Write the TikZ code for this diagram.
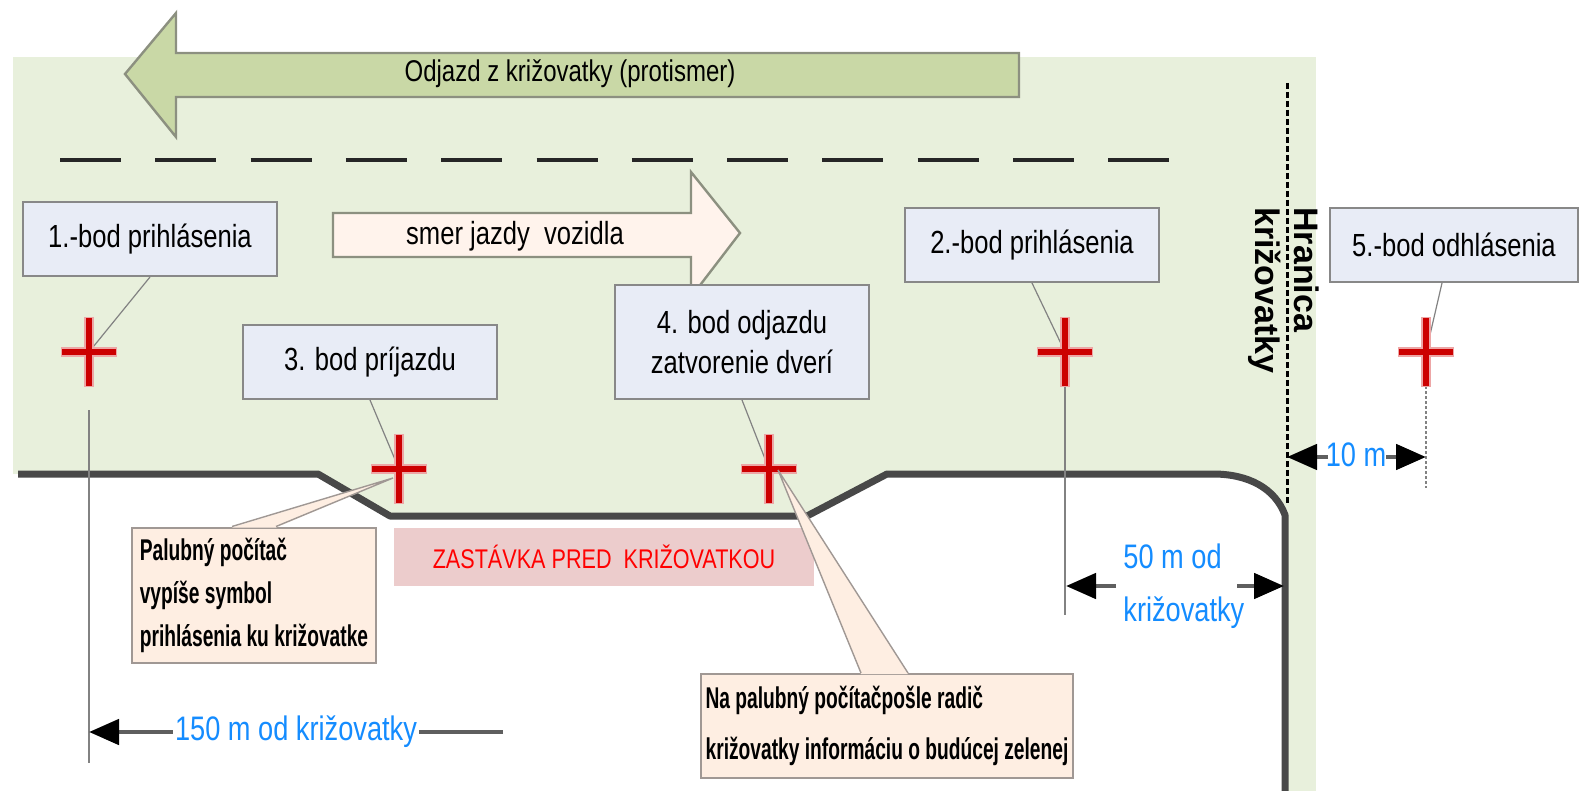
\documentclass[tikz,border=0pt]{standalone}
\usepackage{fontspec}
\setmainfont{Liberation Sans}
\newfontfamily\narrowfont{Liberation Sans}[FakeStretch=0.8]
\newfontfamily\calloutfont{Liberation Sans}[FakeStretch=0.64, BoldFeatures={FakeStretch=0.64}]
\usepackage{xcolor}
\usepackage{tikz}
\usetikzlibrary{arrows.meta, calc}
\definecolor{bggreen}{RGB}{232,240,220}
\definecolor{arrowgreen}{RGB}{201,216,166}
\definecolor{arrowedge}{RGB}{140,144,128}
\definecolor{boxfill}{RGB}{232,236,246}
\definecolor{boxedge}{RGB}{136,136,136}
\definecolor{peach}{RGB}{254,238,226}
\definecolor{paleorange}{RGB}{255,243,236}
\definecolor{calloutedge}{RGB}{160,152,148}
\definecolor{zonepink}{RGB}{236,204,204}
\definecolor{roadgray}{RGB}{72,72,72}
\definecolor{crossred}{RGB}{204,0,0}
\definecolor{dimblue}{RGB}{20,140,255}
\definecolor{dimgray}{RGB}{95,95,95}
\definecolor{leadgray}{RGB}{130,130,130}
\tikzstyle{pointbox} = [rectangle, draw=boxedge, line width=1pt, fill=boxfill, minimum width=127pt, minimum height=37pt, inner sep=2pt, align=center, font=\narrowfont\fontsize{16}{20}\selectfont]
\tikzstyle{callout} = [rectangle, draw=calloutedge, line width=1pt, fill=peach, inner sep=1.5pt, align=left, font=\calloutfont\bfseries\fontsize{15}{21.5}\selectfont]
\tikzstyle{bigarrow} = [draw=arrowedge, line width=1.2pt]
\tikzstyle{leader} = [leadgray, line width=0.6pt]
\tikzstyle{pointer} = [calloutedge, line width=0.7pt]
\tikzstyle{laneline} = [line width=2.4pt, black!85]
\tikzstyle{road} = [line width=3.5pt, roadgray, line join=round]
\tikzstyle{dimline} = [line width=2.4pt, dimgray]
\tikzstyle{dimtip} = [-{Triangle[length=15pt,width=12.5pt,color=black]}]
\tikzstyle{dimtext} = [text=dimblue, inner sep=1pt, font=\narrowfont\fontsize{17}{26.5}\selectfont]
\tikzset{pics/redplus/.style={code={
  \draw[line width=4.6pt, crossred!35] (-28,0) -- (28,0) (0,-35) -- (0,35);
  \draw[line width=3pt, crossred] (-27,0) -- (27,0) (0,-34) -- (0,34);}}}

\begin{document}
\begin{tikzpicture}[x=0.5pt, y=-0.5pt]
\useasboundingbox (0,0) rectangle (1580,791);
% road area
\fill[bggreen] (13,57) rectangle (1316,791);
\fill[white] (13,474) -- (318,474) -- (390,516) -- (807,516) -- (887,474) -- (1213,474) .. controls (1248,474) and (1275,488) .. (1285,515) -- (1285,791) -- (13,791) -- cycle;
\foreach \i in {0,...,11}
  \draw[laneline] ({60+\i*95.3},160) -- ++(61,0);
\draw[road] (18,474) -- (318,474) -- (390,516) -- (807,516) -- (887,474) -- (1213,474) .. controls (1248,474) and (1275,488) .. (1285,515) -- (1285,791);

% direction arrows
\filldraw[bigarrow, fill=arrowgreen] (125,74) -- (176,13) -- (176,53) -- (1019,53) -- (1019,97) -- (176,97) -- (176,137) -- cycle;
\node (odjazd) at (570,74) [font=\narrowfont\fontsize{15}{18}\selectfont] {Odjazd z križovatky (protismer)};
\filldraw[bigarrow, fill=paleorange] (333,213) -- (691,213) -- (691,172) -- (740,233) -- (691,297) -- (691,257) -- (333,257) -- cycle;
\node (smer) at (515,236) [font=\narrowfont\fontsize{16}{18}\selectfont] {smer jazdy\ \ vozidla};

% intersection border
\coordinate (bordertop) at (1287,83);
\coordinate (borderbot) at (1287,505);
\draw[line width=1.5pt, dash pattern=on 3pt off 1.5pt] (bordertop) -- (borderbot);
\node (hranica) at (1320,207) [rotate=-90, anchor=north west, inner sep=0pt, align=left, font=\bfseries\fontsize{17}{19.5}\selectfont] {Hranica\\križovatky};

\node (zastavka) at (604,557) [rectangle, fill=zonepink, minimum width=210pt, minimum height=29pt, text=red, font=\narrowfont\fontsize{13.5}{16}\selectfont] {ZASTÁVKA PRED\ \ KRIŽOVATKOU};

\node (b1) at (150,239) [pointbox] {1.-bod prihlásenia};
\node (b3) at (370,362) [pointbox] {3. bod príjazdu};
\node (b4) at (742,342) [pointbox, minimum height=57pt] {4. bod odjazdu\\zatvorenie dverí};
\node (b2) at (1032,245) [pointbox] {2.-bod prihlásenia};
\node (b5) at (1454,245) [pointbox, minimum width=124pt] {5.-bod odhlásenia};

\coordinate (p1) at (89,352);
\coordinate (p3) at (399,469);
\coordinate (p4) at (769,469);
\coordinate (p2) at (1065,352);
\coordinate (p5) at (1426,352);
\draw[leader] (b1.south) -- (p1);
\draw[leader] (b3.south) -- (p3);
\draw[leader] (b4.south) -- (p4);
\draw[leader] (b2.south) -- (p2);
\draw[leader] ($(b5.south)+(-12,0)$) -- (p5);
\draw[leader] ($(p1)+(0,58)$) -- ($(p1)+(0,411)$);
\draw[leader] ($(p2)+(0,34)$) -- ($(p2)+(0,263)$);
\draw[leadgray, line width=1pt, dash pattern=on 1.5pt off 1pt] ($(p5)+(0,34)$) -- ($(p5)+(0,136)$);
\foreach \p in {p1,p2,p3,p4,p5}
  \pic at (\p) {redplus};

% callouts
\node (cal1) at (254,595) [callout, minimum width=122pt, minimum height=67.5pt] {Palubný počítač\\vypíše symbol\\prihlásenia ku križovatke};
\fill[peach] ($(cal1.north west)+(101,1)$) -- ($(p3)+(-6,9)$) -- ($(cal1.north west)+(145,1)$) -- cycle;
\draw[pointer] ($(cal1.north west)+(101,0)$) -- ($(p3)+(-6,9)$) -- ($(cal1.north west)+(145,0)$);
\node (cal2) at (887,726) [callout, minimum width=186pt, minimum height=52pt, font=\calloutfont\bfseries\fontsize{15}{25.5}\selectfont] {Na palubný počítačpošle radič\\križovatky informáciu o budúcej zelenej};
\fill[peach] ($(cal2.north west)+(161,1)$) -- ($(p4)+(9,1)$) -- ($(cal2.north west)+(208,1)$) -- cycle;
\draw[pointer] ($(cal2.north west)+(161,0)$) -- ($(p4)+(9,1)$) -- ($(cal2.north west)+(208,0)$);

% distances
\coordinate (d150) at (89,732);
\draw[dimline, dimtip] (503,732) -- node[dimtext, fill=white] {150 m od križovatky} (d150);
\coordinate (d50a) at (1066,586);
\coordinate (d50b) at (1284,586);
\draw[dimline, dimtip] (1116,586) -- (d50a);
\draw[dimline, dimtip] (1237,586) -- (d50b);
\node (d50text) at (1121,586) [dimtext, anchor=west, align=left] {50 m od\\križovatky};
\coordinate (d10a) at (1287,457);
\coordinate (d10b) at (1426,457);
\draw[dimline, dimtip] (1328,457) -- (d10a);
\draw[dimline, dimtip] (1386,457) -- (d10b);
\node (d10text) at (1356,455) [dimtext] {10 m};
\end{tikzpicture}
\end{document}
